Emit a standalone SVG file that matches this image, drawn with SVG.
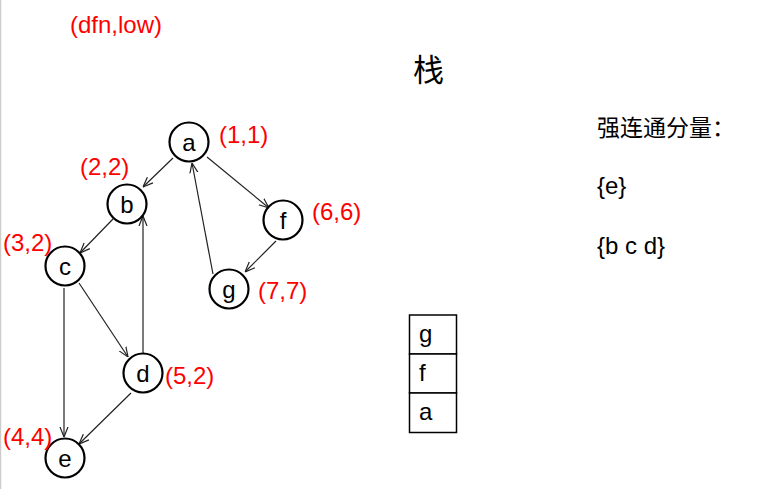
<svg xmlns="http://www.w3.org/2000/svg" width="758" height="489" viewBox="0 0 758 489">
<defs>
<marker id="arr" viewBox="0 0 10 10" refX="10" refY="5" markerWidth="10" markerHeight="10" markerUnits="userSpaceOnUse" orient="auto">
<path d="M0,1 L10,5 L0,9" fill="none" stroke="#222" stroke-width="1.2"/>
</marker>
<style>
.n circle{fill:#fff;stroke:#000;stroke-width:2.2}
.n text{font-family:"Liberation Sans",Arial,sans-serif;font-size:24px;fill:#000;text-anchor:middle}
.lab{font-family:"Liberation Sans",Arial,sans-serif;font-size:24px;fill:#ff0000}
.e line{stroke:#222;stroke-width:1.2;marker-end:url(#arr)}
.t{font-family:"Liberation Sans",Arial,sans-serif;font-size:24px;fill:#000}
.cjk{font-family:"Noto Sans CJK SC","Liberation Sans",sans-serif;fill:#000}
.st rect{fill:#fff;stroke:#000;stroke-width:1.5}
</style>
</defs>
<rect width="758" height="489" fill="#fff"/>
<line x1="0.5" y1="0" x2="0.5" y2="489" stroke="#ccc" stroke-width="1.5"/>
<text class="lab" x="70" y="33">(dfn,low)</text>
<g id="edges" class="e">
<line x1="173" y1="158" x2="143" y2="187"/>
<line x1="207" y1="157" x2="269" y2="208"/>
<line x1="213" y1="274" x2="192" y2="163"/>
<line x1="276" y1="241" x2="245" y2="272"/>
<line x1="113" y1="219" x2="80" y2="253"/>
<line x1="143" y1="353" x2="143" y2="216"/>
<line x1="79" y1="283" x2="128" y2="357"/>
<line x1="64" y1="288" x2="64" y2="437"/>
<line x1="131" y1="393" x2="79" y2="444"/>
</g>
<g id="node-a" class="n"><circle cx="189" cy="142" r="19.5"/><text x="189" y="151">a</text></g>
<g id="node-b" class="n"><circle cx="127" cy="204" r="19.5"/><text x="127" y="213">b</text></g>
<g id="node-c" class="n"><circle cx="65" cy="266" r="19.5"/><text x="65" y="275">c</text></g>
<g id="node-d" class="n"><circle cx="143" cy="373" r="19.5"/><text x="143" y="382">d</text></g>
<g id="node-e" class="n"><circle cx="65" cy="458" r="19.5"/><text x="65" y="467">e</text></g>
<g id="node-f" class="n"><circle cx="283" cy="220" r="19.5"/><text x="283" y="229">f</text></g>
<g id="node-g" class="n"><circle cx="229" cy="289" r="19.5"/><text x="229" y="298">g</text></g>
<g id="labels">
<text class="lab" x="219" y="143">(1,1)</text>
<text class="lab" x="80" y="175">(2,2)</text>
<text class="lab" x="3" y="251">(3,2)</text>
<text class="lab" x="312" y="220">(6,6)</text>
<text class="lab" x="258" y="299">(7,7)</text>
<text class="lab" x="165" y="384">(5,2)</text>
<text class="lab" x="3" y="445">(4,4)</text>
</g>
<text class="cjk" x="413" y="81" font-size="31">栈</text>
<text class="cjk" x="597" y="136" font-size="23">强连通分量：</text>
<text class="t" x="597" y="194">{e}</text>
<text class="t" x="597" y="254">{b c d}</text>
<g id="stack" class="st">
<rect x="409.5" y="315" width="47" height="39"/>
<rect x="409.5" y="354" width="47" height="39"/>
<rect x="409.5" y="393" width="47" height="39.5"/>
<text class="t" x="419" y="342">g</text>
<text class="t" x="419" y="381">f</text>
<text class="t" x="419" y="420">a</text>
</g>
</svg>
